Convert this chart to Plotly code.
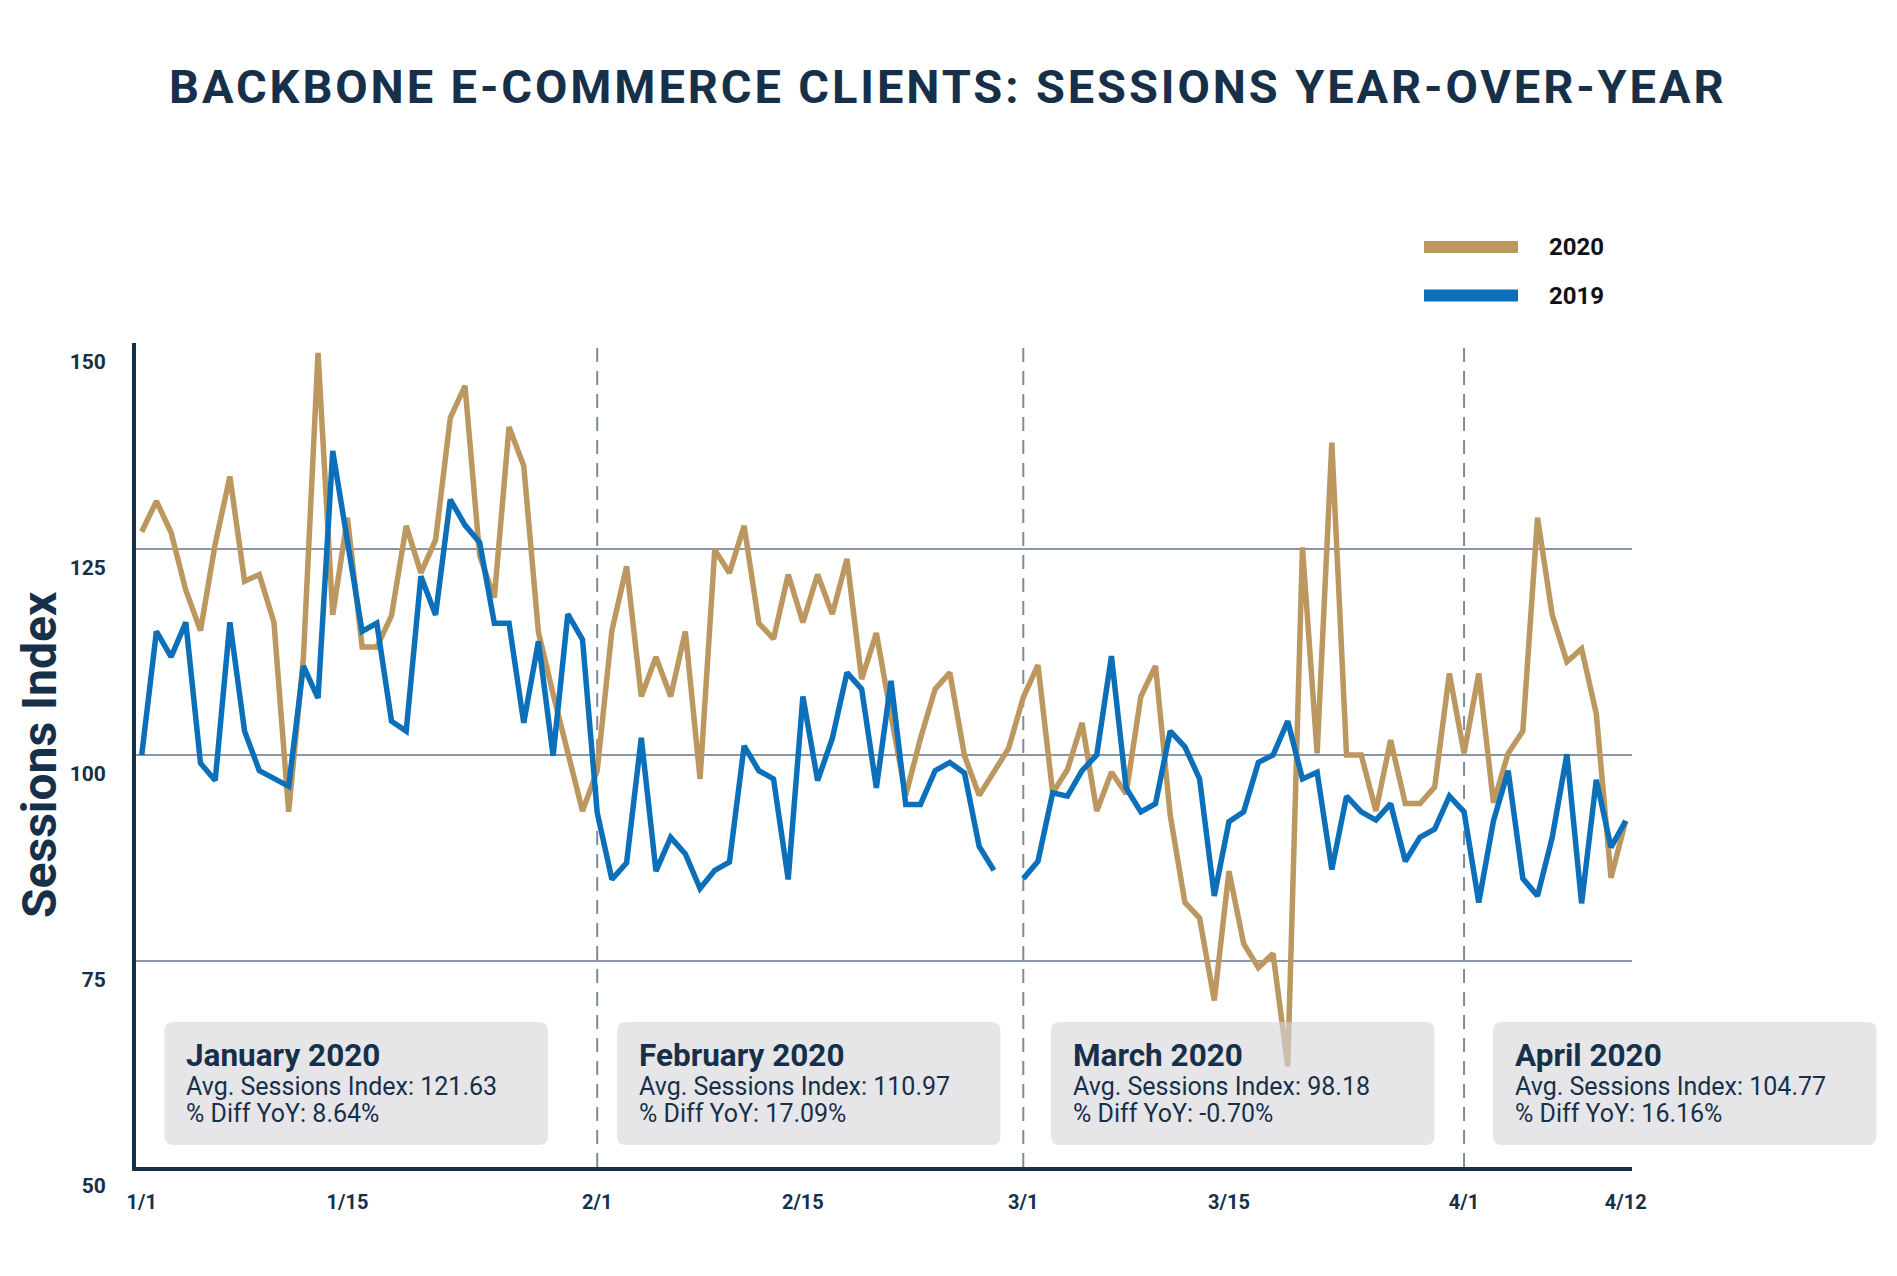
import plotly.graph_objects as go

# ---------------- data ----------------
dates_jan = ["1/%d" % d for d in range(1, 32)]
dates_feb = ["2/%d" % d for d in range(1, 30)]
dates_mar = ["3/%d" % d for d in range(1, 31)]   # 30 entries in the source chart
dates_apr = ["4/%d" % d for d in range(1, 13)]
dates = dates_jan + dates_feb + dates_mar + dates_apr

sessions_2020 = [
    # Jan
    127.1, 130.8, 127.0, 120.0, 115.1, 125.6, 133.8, 121.1, 121.9, 116.1,
    93.1, 111.7, 148.8, 117.0, 128.8, 113.1, 113.1, 116.9, 127.8, 122.1,
    126.1, 140.9, 144.8, 124.2, 119.1, 139.8, 135.1, 114.9, 107.4, 100.1, 93.2,
    # Feb
    98.1, 115.1, 122.9, 107.1, 111.9, 107.1, 115.0, 97.1, 124.9, 122.1,
    127.8, 116.0, 114.1, 121.9, 116.1, 121.9, 117.1, 123.8, 109.2, 114.8,
    104.8, 95.1, 102.0, 108.0, 110.0, 99.9, 95.1, 97.8, 100.8,
    # Mar
    107.0, 110.9, 95.4, 98.2, 103.9, 93.2, 97.9, 95.3, 107.1, 110.8,
    92.7, 82.1, 80.2, 70.2, 85.9, 77.1, 74.2, 75.9, 62.2, 125.2,
    100.2, 137.9, 100.0, 100.0, 93.2, 101.8, 94.1, 94.1, 96.1, 109.9,
    # Apr
    100.2, 109.9, 94.2, 100.2, 102.9, 128.8, 117.0, 111.3, 112.9, 105.0, 85.1, 92.0,
]

sessions_2019 = [
    # Jan
    100.0, 115.0, 111.9, 116.1, 99.0, 96.9, 116.1, 102.9, 98.1, 97.1,
    96.2, 110.8, 106.9, 136.9, 125.6, 115.0, 116.0, 104.1, 102.9, 121.7,
    117.0, 131.0, 127.9, 125.8, 116.0, 116.0, 103.9, 113.8, 99.9, 117.1, 114.0,
    # Feb (no 2/29 in 2019)
    93.0, 84.9, 86.9, 102.1, 85.9, 90.0, 88.0, 83.8, 86.0, 87.0,
    101.1, 98.1, 97.1, 84.9, 107.1, 96.9, 102.0, 110.0, 108.0, 96.0,
    109.0, 94.0, 94.0, 98.1, 99.1, 97.8, 88.9, 86.0, None,
    # Mar
    85.0, 87.1, 95.4, 95.0, 98.1, 100.0, 112.0, 96.0, 93.1, 94.1,
    102.9, 101.0, 97.1, 82.9, 91.9, 93.1, 99.1, 100.0, 104.1, 97.1,
    97.9, 86.1, 95.0, 93.1, 92.1, 94.1, 87.1, 90.0, 91.0, 95.0,
    # Apr
    93.1, 82.1, 92.0, 98.1, 85.0, 82.9, 90.0, 100.1, 82.0, 97.0, 88.8, 92.0,
]

x_tick_labels = ["1/1", "1/15", "2/1", "2/15", "3/1", "3/15", "4/1", "4/12"]
y_tick_values = [50, 75, 100, 125, 150]
month_starts = ["2/1", "3/1", "4/1"]

box_titles = ["January 2020", "February 2020", "March 2020", "April 2020"]
box_avg = ["121.63", "110.97", "98.18", "104.77"]
box_diff = ["8.64%", "17.09%", "-0.70%", "16.16%"]

# ---------------- style ----------------
W, H = 1897, 1276
ML, MR, MT, MB = 136, W - 1632, 343, H - 1167
PW, PH = W - ML - MR, H - MT - MB

NAVY = "#17304A"
TAN = "#BC9760"
BLUE = "#0B70B9"
GRID = "#8A97A4"
DASH = "#7E8C99"
FONT = "Roboto"


def px(xp):
    return (xp - ML) / PW


def py(yp):
    return (H - MB - yp) / PH


fig = go.Figure()
fig.add_trace(go.Scatter(x=dates, y=sessions_2020, mode="lines", name="2020",
                         line=dict(color=TAN, width=5.5), connectgaps=False))
fig.add_trace(go.Scatter(x=dates, y=sessions_2019, mode="lines", name="2019",
                         line=dict(color=BLUE, width=5.5), connectgaps=False))

shapes = []
annotations = []

# dashed month separators
for m in month_starts:
    xi = dates.index(m)
    shapes.append(dict(type="line", xref="x", yref="y", x0=xi, x1=xi, y0=50, y1=150,
                       line=dict(color=DASH, width=2, dash="14px,9px"), layer="between"))

# rounded summary boxes
box_lefts = [164.5, 617, 1051, 1493]
box_w, box_top, box_bot, rad = 383.5, 1022, 1145, 9
for i, bl in enumerate(box_lefts):
    x0, x1 = px(bl), px(bl + box_w)
    y0, y1 = py(box_bot), py(box_top)
    rx, ry = rad / PW, rad / PH
    path = (f"M{x0+rx},{y1} L{x1-rx},{y1} Q{x1},{y1} {x1},{y1-ry} "
            f"L{x1},{y0+ry} Q{x1},{y0} {x1-rx},{y0} L{x0+rx},{y0} "
            f"Q{x0},{y0} {x0},{y0+ry} L{x0},{y1-ry} Q{x0},{y1} {x0+rx},{y1} Z")
    shapes.append(dict(type="path", xref="paper", yref="paper", path=path,
                       fillcolor="rgba(214,214,219,0.62)", line=dict(width=0), layer="above"))
    tx = px(bl + 19.5)
    annotations.append(dict(xref="paper", yref="paper", x=tx, y=py(1055), xanchor="left",
                            yanchor="middle", showarrow=False, text=box_titles[i],
                            font=dict(family=FONT, size=31.5, color=NAVY, weight=700)))
    annotations.append(dict(xref="paper", yref="paper", x=tx, y=py(1086), xanchor="left",
                            yanchor="middle", showarrow=False,
                            text="Avg. Sessions Index: " + box_avg[i],
                            font=dict(family=FONT, size=25, color=NAVY)))
    annotations.append(dict(xref="paper", yref="paper", x=tx, y=py(1113), xanchor="left",
                            yanchor="middle", showarrow=False,
                            text="% Diff YoY: " + box_diff[i],
                            font=dict(family=FONT, size=25, color=NAVY)))

# manual legend
for name, color, yc in [("2020", TAN, 247), ("2019", BLUE, 295.5)]:
    shapes.append(dict(type="line", xref="paper", yref="paper", x0=px(1424), x1=px(1518),
                       y0=py(yc), y1=py(yc), line=dict(color=color, width=12)))
    annotations.append(dict(xref="paper", yref="paper", x=px(1547), y=py(yc), xanchor="left",
                            yanchor="middle", showarrow=False, text=name,
                            font=dict(family=FONT, size=24, color="#111111", weight=700)))

# title
annotations.append(dict(xref="paper", yref="paper", x=px(948), y=py(87), xanchor="center",
                        yanchor="middle", showarrow=False,
                        text='<span style="letter-spacing:2.9px">BACKBONE E-COMMERCE CLIENTS: SESSIONS YEAR-OVER-YEAR</span>',
                        font=dict(family=FONT, size=47, color=NAVY, weight=700)))

# y axis title
annotations.append(dict(xref="paper", yref="paper", x=px(39), y=py(755), xanchor="center",
                        yanchor="middle", showarrow=False, textangle=-90,
                        text="Sessions Index",
                        font=dict(family=FONT, size=48, color=NAVY, weight=700)))

fig.update_layout(
    width=W, height=H,
    margin=dict(l=ML, r=MR, t=MT, b=MB, pad=0),
    paper_bgcolor="white", plot_bgcolor="white",
    showlegend=False,
    shapes=shapes, annotations=annotations,
    xaxis=dict(type="category", categoryorder="array", categoryarray=dates,
               range=[-0.39, 101.43], showgrid=False, zeroline=False,
               showline=True, linecolor=NAVY, linewidth=4,
               tickmode="array", tickvals=x_tick_labels, ticktext=x_tick_labels,
               ticks="", ticklabelstandoff=14,
               tickfont=dict(family=FONT, size=20, color=NAVY, weight=700)),
    yaxis=dict(range=[50, 150], tickmode="array", tickvals=y_tick_values,
               showgrid=True, gridcolor=GRID, gridwidth=2, zeroline=False,
               showline=True, linecolor=NAVY, linewidth=4,
               ticks="", ticklabelstandoff=22, ticklabelshift=19,
               tickfont=dict(family=FONT, size=21, color=NAVY, weight=700)),
)

fig.write_html("out.html", config={"displayModeBar": False},
               post_script="document.body.style.margin='0';document.body.style.overflow='hidden';")
